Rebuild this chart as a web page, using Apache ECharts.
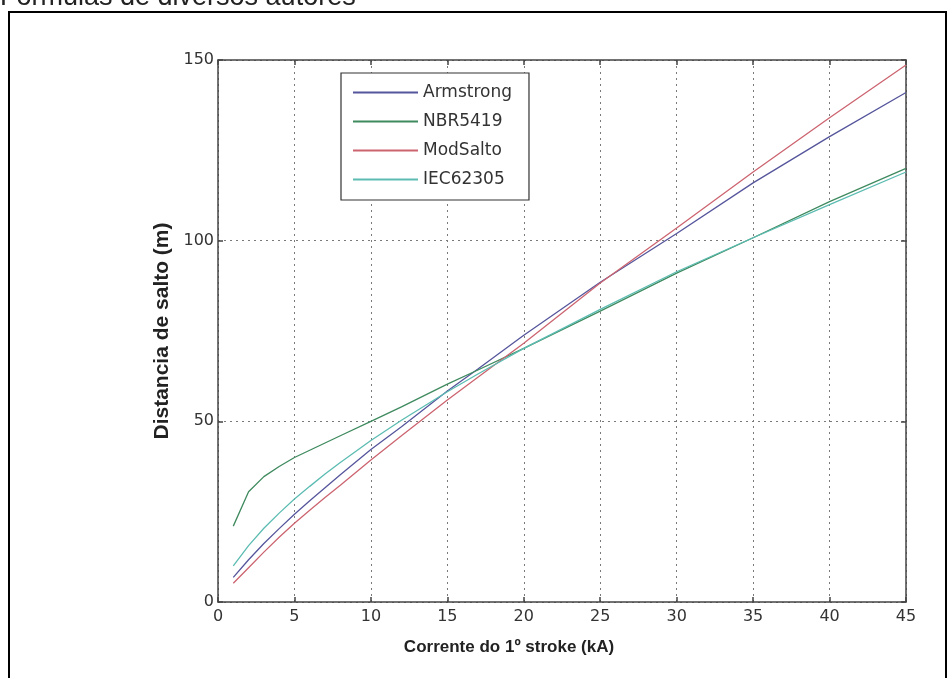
<!DOCTYPE html>
<html>
<head>
<meta charset="utf-8">
<title>Fórmulas de diversos autores</title>
<script src="https://cdn.jsdelivr.net/npm/echarts@6/dist/echarts.min.js"></script>
<style>
  html, body { margin: 0; padding: 0; background: #fff; }
  #chart { width: 949px; height: 678px; }
</style>
</head>
<body>
<div id="chart"></div>
<script>
  // corrente do 1o stroke (kA)
  const currents = [1, 2, 3, 4, 5, 6, 7, 8, 10, 12, 15, 17, 20, 25, 30, 35, 40, 45]

  // distancia de salto (m)
  const armstrong = [6.8, 11.7, 16.2, 20.3, 24.3, 28.0, 31.6, 35.2, 42.2, 48.5, 58.4, 64.5, 73.8, 88.5, 102.0, 116.0, 128.8, 141.0]
  const nbr5419 = [21.0, 30.5, 34.7, 37.5, 40.0, 42.0, 44.0, 46.0, 50.0, 54.0, 60.3, 64.2, 70.2, 80.5, 91.0, 100.8, 110.8, 120.0]
  const modSalto = [5.2, 9.5, 13.8, 17.9, 21.8, 25.4, 28.9, 32.3, 39.3, 46.0, 55.9, 62.2, 71.6, 88.3, 103.5, 119.0, 134.0, 148.6]
  const iec62305 = [10.0, 15.6, 20.4, 24.6, 28.5, 32.0, 35.4, 38.6, 44.7, 50.3, 58.2, 63.1, 70.2, 81.0, 91.4, 100.8, 110.0, 119.0]

  const seriesNames = ['Armstrong', 'NBR5419', 'ModSalto', 'IEC62305']
  const seriesColors = ['#55559c', '#3f8a5f', '#cc6470', '#5cbcb2']
  const seriesValues = [armstrong, nbr5419, modSalto, iec62305]

  const xTicks = { min: 0, max: 45, interval: 5 }
  const yTicks = { min: 0, max: 150, interval: 50 }

  const axisColor = '#444'
  const gridDots = { type: [2, 4], color: '#7a7a7a', width: 1 }
  const wideFont = '"DejaVu Sans", Verdana, sans-serif'

  const chart = echarts.init(document.getElementById('chart'), null, { renderer: 'canvas' })

  chart.setOption({
      animation: false,
      backgroundColor: '#fff',
      textStyle: { fontFamily: 'Arial, "Liberation Sans", sans-serif' },
      graphic: [
          {
              type: 'text',
              left: 0,
              top: -16,
              style: {
                  text: 'Fórmulas de diversos autores',
                  fontSize: 27,
                  fill: '#222',
                  fontFamily: 'Arial, "Liberation Sans", sans-serif'
              }
          },
          {
              type: 'rect',
              shape: { x: 9, y: 12, width: 937, height: 700 },
              style: { fill: 'none', stroke: '#000', lineWidth: 2 },
              silent: true
          }
      ],
      grid: {
          left: 218,
          right: 43,
          top: 60,
          bottom: 76
      },
      legend: {
          orient: 'vertical',
          left: 341,
          top: 73,
          padding: [11, 17, 12, 12],
          itemGap: 12,
          itemWidth: 65,
          itemHeight: 2,
          icon: 'rect',
          backgroundColor: '#fff',
          borderColor: '#333',
          borderWidth: 1.2,
          borderRadius: 0,
          textStyle: { fontSize: 17, color: '#333', fontFamily: wideFont },
          data: seriesNames
      },
      xAxis: [{
          type: 'value',
          min: xTicks.min,
          max: xTicks.max,
          interval: xTicks.interval,
          name: 'Corrente do 1º stroke (kA)',
          nameLocation: 'middle',
          nameGap: 37,
          nameTextStyle: { fontSize: 17, fontWeight: 'bold', color: '#222', padding: [0, 106, 0, 0] },
          axisLine: { show: true, onZero: false, lineStyle: { color: axisColor, width: 1.5 } },
          axisTick: { show: true, inside: true, length: 5, lineStyle: { color: axisColor, width: 1.5 } },
          axisLabel: { fontSize: 16, color: '#333', margin: 7, fontFamily: wideFont },
          splitLine: { show: true, lineStyle: gridDots }
      }, {
          type: 'value',
          position: 'top',
          min: xTicks.min,
          max: xTicks.max,
          interval: xTicks.interval,
          axisLine: { show: true, onZero: false, lineStyle: { color: axisColor, width: 1.5 } },
          axisTick: { show: true, inside: true, length: 5, lineStyle: { color: axisColor, width: 1.5 } },
          axisLabel: { show: false },
          splitLine: { show: false }
      }],
      yAxis: [{
          type: 'value',
          min: yTicks.min,
          max: yTicks.max,
          interval: yTicks.interval,
          name: 'Distancia de salto (m)',
          nameLocation: 'middle',
          nameGap: 42,
          nameTextStyle: { fontSize: 21, fontWeight: 'bold', color: '#222' },
          axisLine: { show: true, onZero: false, lineStyle: { color: axisColor, width: 1.5 } },
          axisTick: { show: true, inside: true, length: 5, lineStyle: { color: axisColor, width: 1.5 } },
          axisLabel: { fontSize: 16, color: '#333', margin: 4, fontFamily: wideFont },
          splitLine: { show: true, lineStyle: gridDots }
      }, {
          type: 'value',
          position: 'right',
          min: yTicks.min,
          max: yTicks.max,
          interval: yTicks.interval,
          axisLine: { show: true, onZero: false, lineStyle: { color: axisColor, width: 1.5 } },
          axisTick: { show: true, inside: true, length: 5, lineStyle: { color: axisColor, width: 1.5 } },
          axisLabel: { show: false },
          splitLine: { show: false }
      }],
      series: seriesNames.map(function(name, i) {
          return {
              name: name,
              type: 'line',
              xAxisIndex: 0,
              yAxisIndex: 0,
              showSymbol: false,
              symbol: 'none',
              color: seriesColors[i],
              lineStyle: { width: 1.3, color: seriesColors[i] },
              data: currents.map(function(c, k) { return [c, seriesValues[i][k]] })
          }
      })
  })
</script>
</body>
</html>
